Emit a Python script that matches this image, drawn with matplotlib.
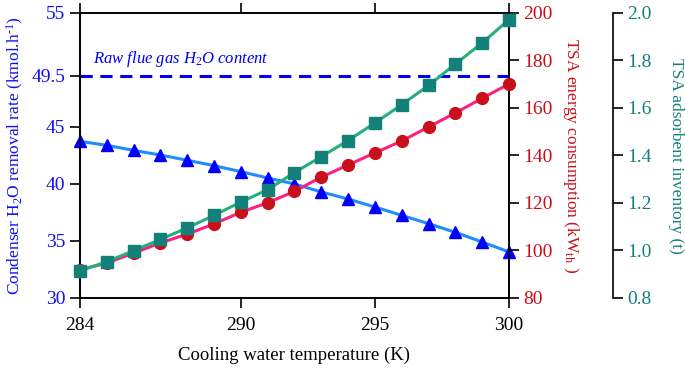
import numpy as np
import matplotlib.pyplot as plt

plt.rcParams['font.family'] = ['Liberation Serif', 'DejaVu Serif']
plt.rcParams['mathtext.fontset'] = 'custom'
plt.rcParams['mathtext.rm'] = 'Liberation Serif'
plt.rcParams['mathtext.it'] = 'Liberation Serif:italic'

# cooling water temperature (K)
temp = np.arange(284, 301)

# condenser H2O removal rate (kmol/h)
h2o_rate = [43.74, 43.39, 42.95, 42.54, 42.08, 41.61, 41.08, 40.53, 40.0,
            39.30, 38.68, 37.98, 37.25, 36.52, 35.76, 34.91, 34.04]
# TSA energy consumption (kW_th)
tsa_energy = [91.9, 94.7, 98.9, 103.2, 106.9, 111.2, 116.1, 120.1, 124.9,
              130.9, 136.0, 141.1, 146.1, 152.0, 157.9, 164.1, 170.1]
# TSA adsorbent inventory (t)
tsa_inv = [0.914, 0.953, 0.999, 1.047, 1.095, 1.148, 1.204, 1.256, 1.328,
           1.395, 1.463, 1.537, 1.614, 1.695, 1.785, 1.874, 1.972]
raw_h2o = 49.5

xticks = [284, 290, 295, 300]
left_ticks = [30, 35, 40, 45, 49.5, 55]

blue = '#1010f0'
red = '#c8101a'
teal = '#138079'

fig, ax = plt.subplots(figsize=(6.85, 3.71), dpi=100)
plt.subplots_adjust(left=0.1168, right=0.743, bottom=0.1968, top=0.965)

ax2 = ax.twinx()
ax3 = ax.twinx()
ax3.spines['right'].set_position(('axes', 1.2424))

# raw flue gas line
ax.axhline(raw_h2o, color='#0000ee', lw=2.2, ls=(0, (4, 2.5)), zorder=3)
ax.text(284.5, 50.6, 'Raw flue gas $\\mathit{H}_2\\mathit{O}$ content',
        color='#0000ee', style='italic', fontsize=12, va='baseline',
        ha='left')

ax.plot(temp, h2o_rate, color='#1e8cff', lw=2.2, marker='^', ms=8.5,
        mfc='#0000ff', mec='#0000ff', clip_on=False, zorder=4)
ax2.plot(temp, tsa_energy, color='#ff1f7f', lw=2.2, marker='o', ms=8.5,
         mfc=red, mec=red, clip_on=False, zorder=4)
ax3.plot(temp, tsa_inv, color='#20b27a', lw=2.2, marker='s', ms=8,
         mfc=teal, mec=teal, clip_on=False, zorder=4)

ax.set_xlim(284, 300)
ax.set_xticks(xticks)
ax.set_ylim(30, 55)
ax.set_yticks(left_ticks)
ax.set_yticklabels(['30', '35', '40', '45', '49.5', '55'])
ax2.set_ylim(80, 200)
ax2.set_yticks(np.arange(80, 201, 20))
ax3.set_ylim(0.8, 2.0)
ax3.set_yticks(np.arange(0.8, 2.01, 0.2))
ax3.set_yticklabels(['%.1f' % v for v in np.arange(0.8, 2.01, 0.2)])

ax.tick_params(axis='x', top=True, direction='out', length=7, width=1.2,
               labelsize=14, pad=7)
ax.tick_params(axis='y', colors='black', labelcolor=blue, length=7, width=1.2,
               labelsize=14)
ax2.tick_params(axis='y', labelcolor=red, length=7, width=1.2, labelsize=14)
ax3.tick_params(axis='y', labelcolor=teal, length=7, width=1.2, labelsize=14)

for a in (ax, ax2):
    for s in a.spines.values():
        s.set_linewidth(1.2)
for k in ('top', 'bottom', 'left'):
    ax3.spines[k].set_visible(False)
ax3.spines['right'].set_linewidth(1.2)
ax3.spines['right'].set_bounds(0.8, 2.0)

ax.set_xlabel('Cooling water temperature (K)', fontsize=13.5, labelpad=9)
ax.set_ylabel('Condenser H$_2$O removal rate (kmol.h$^{\\text{-}1}$)',
              color=blue, fontsize=12.5, labelpad=4)
ax2.set_ylabel('TSA energy consumption (kW$_{\\mathrm{th}}$ )', color=red,
               fontsize=12.5, rotation=270, labelpad=20)
ax3.set_ylabel('TSA adsorbent inventory (t)', color=teal, fontsize=12.5,
               rotation=270, labelpad=23)

fig.savefig('out.png', dpi=100)
